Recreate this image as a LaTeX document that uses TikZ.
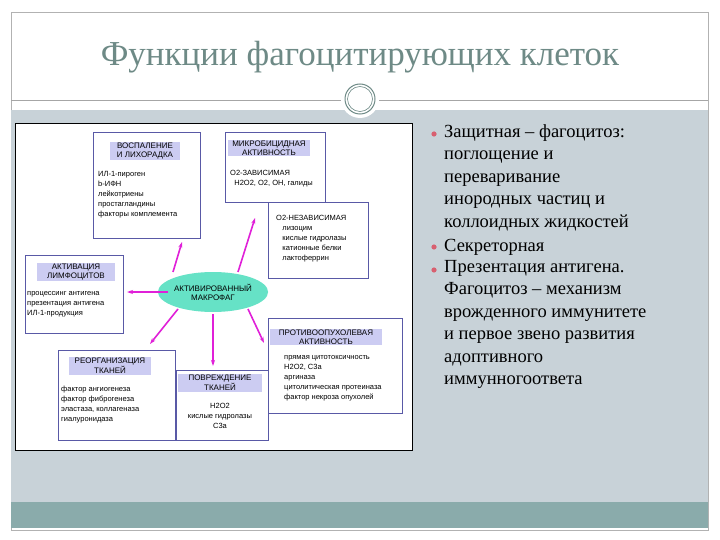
\documentclass[tikz,border=0pt]{standalone}
\usepackage{fontspec}
\setmainfont{Liberation Serif}
\newfontfamily\dsans{Liberation Sans}
\usetikzlibrary{arrows.meta,shapes.geometric}
\definecolor{panel}{HTML}{C8D2D8}
\definecolor{band}{HTML}{8AABAB}
\definecolor{ttl}{HTML}{6E8A86}
\definecolor{hdr}{HTML}{CCCCF2}
\definecolor{mag}{HTML}{E020D8}
\definecolor{ell}{HTML}{66E2C6}
\definecolor{bul}{HTML}{D86070}
\begin{document}
\begin{tikzpicture}[x=1pt,y=-1pt,
  box/.style={draw=gray!70!blue,fill=white,line width=0.5pt},
  hd/.style={fill=hdr,inner sep=1pt,font=\dsans\fontsize{8}{8.8}\selectfont,align=center},
  bt/.style={inner sep=0pt,font=\dsans\fontsize{7.5}{10}\selectfont,align=left,anchor=north west},
  arr/.style={-{Stealth[length=6pt,width=4pt]},mag,line width=1.6pt},
  bl/.style={anchor=west,inner sep=0pt,font=\fontsize{18.5}{22.5}\selectfont,align=left}]
\useasboundingbox (0,0) rectangle (720,540);
\fill[white] (0,0) rectangle (720,540);
\draw[gray!60] (11,12) rectangle (708,530);
\fill[panel] (11,110) rectangle (708,502);
\fill[band] (11,502) rectangle (708,528);
\draw[gray!70,line width=0.8pt] (11,100) -- (708,100);
\node (t) at (360,57) {\fontsize{35}{38}\selectfont\color{ttl}Функции фагоцитирующих клеток};
\fill[white] (360,99) circle (19);
\draw[ttl,line width=1pt] (360,99) circle (15);
\draw[ttl,line width=0.6pt] (360,99) circle (12.5);
% diagram picture
\draw[black,fill=white,line width=0.8pt] (15,123) rectangle (412,450);
\draw[box] (93,132) rectangle (200,238);
\node[hd,minimum width=70pt] (h1) at (145,151) {ВОСПАЛЕНИЕ\\И ЛИХОРАДКА};
\node[bt] (b1) at (98,171) {ИЛ-1-пироген\\b-ИФН\\лейкотриены\\простагландины\\факторы комплемента};
\draw[box] (225,132) rectangle (325,202);
\node[hd,minimum width=82pt] (h2) at (269,148) {МИКРОБИЦИДНАЯ\\АКТИВНОСТЬ};
\node[bt] (b2) at (230,170) {О2-ЗАВИСИМАЯ\\\ \ Н2О2, О2, ОН, галиды};
\draw[box] (268,202) rectangle (368,278);
\node[bt] (b3) at (276,215) {О2-НЕЗАВИСИМАЯ\\\ \ \ лизоцим\\\ \ \ кислые гидролазы\\\ \ \ катионные белки\\\ \ \ лактоферрин};
\draw[box] (25,255) rectangle (123,333);
\node[hd,minimum width=78pt] (h4) at (76,272) {АКТИВАЦИЯ\\ЛИМФОЦИТОВ};
\node[bt] (b4) at (27,291) {процессинг антигена\\презентация антигена\\ИЛ-1-продукция};
\draw[box] (58,350) rectangle (175,440);
\node[hd,minimum width=82pt] (h5) at (110,366) {РЕОРГАНИЗАЦИЯ\\ТКАНЕЙ};
\node[bt] (b5) at (61,386) {фактор ангиогенеза\\фактор фиброгенеза\\эластаза, коллагеназа\\гиалуронидаза};
\draw[box] (176,370) rectangle (268,440);
\node[hd,minimum width=84pt] (h6) at (220,383) {ПОВРЕЖДЕНИЕ\\ТКАНЕЙ};
\node[font=\dsans\fontsize{7.5}{10}\selectfont,align=center,inner sep=0pt] (b6) at (220,416) {Н2О2\\кислые гидролазы\\С3а};
\draw[box] (268,318) rectangle (402,413);
\node[hd,minimum width=112pt] (h7) at (326,337) {ПРОТИВООПУХОЛЕВАЯ\\АКТИВНОСТЬ};
\node[bt] (b7) at (284,355) {прямая цитотоксичность\\Н2О2, С3а\\аргиназа\\цитолитическая протеиназа\\фактор некроза опухолей};
\node[ellipse,fill=ell,minimum width=88pt,minimum height=40pt,inner sep=0pt,align=center,font=\dsans\fontsize{8}{9}\selectfont] (m) at (213,292) {АКТИВИРОВАННЫЙ\\МАКРОФАГ};
\path (m) ++(-40,-20) coordinate (s1) (m) ++(-45,0) coordinate (s4) (m) ++(-35,17) coordinate (s5)
      (m) ++(0,22) coordinate (s6) (m) ++(35,17) coordinate (s7) (m) ++(25,-20) coordinate (s2);
\coordinate (e1) at (182,242); \coordinate (e4) at (127,292); \coordinate (e5) at (150,344);
\coordinate (e6) at (213,366); \coordinate (e7) at (264,343); \coordinate (e2) at (255,218);
\draw[arr] (s1) -- (e1); \draw[arr] (s4) -- (e4); \draw[arr] (s5) -- (e5);
\draw[arr] (s6) -- (e6); \draw[arr] (s7) -- (e7); \draw[arr] (s2) -- (e2);
% bullets
\foreach \y in {134,247,270} \fill[bul] (434,\y) circle (2.6);
\node[bl,anchor=north west] (l1) at (444,124) {Защитная – фагоцитоз:\\поглощение и\\переваривание\\инородных частиц и\\коллоидных жидкостей};
\node[bl] (l2) at (444,247) {Секреторная};
\node[bl,anchor=north west] (l3) at (444,260) {Презентация антигена.\\Фагоцитоз – механизм\\врожденного иммунитете\\и первое звено развития\\адоптивного\\иммунногоответа};
\end{tikzpicture}
\end{document}
